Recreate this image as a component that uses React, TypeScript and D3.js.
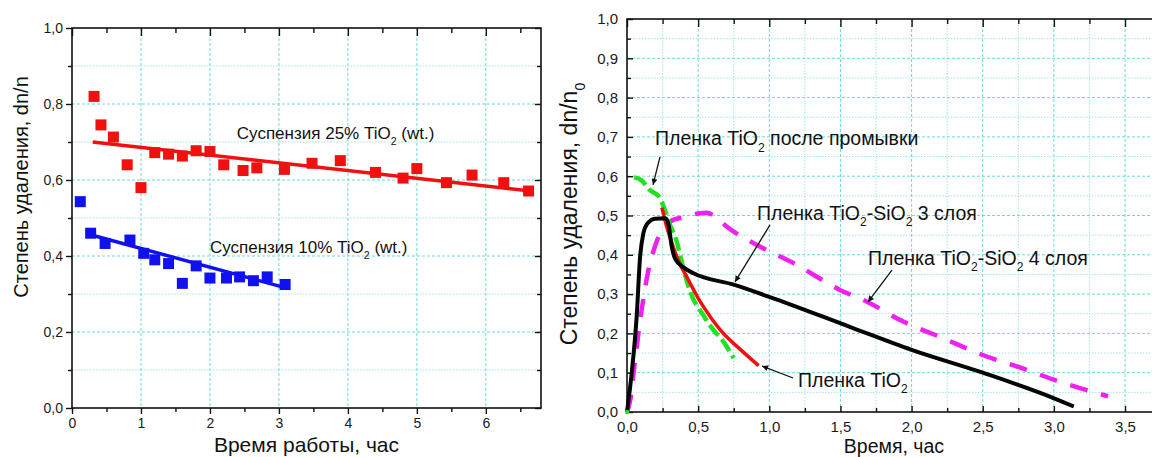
import React, { useEffect, useRef } from "react";
import * as d3 from "d3";

// ---- left panel: suspensions ----
const susp25 = [
  [0.32, 0.82], [0.42, 0.745], [0.6, 0.713], [0.8, 0.64], [1.0, 0.58], [1.2, 0.672],
  [1.4, 0.668], [1.6, 0.663], [1.8, 0.677], [2.0, 0.675], [2.2, 0.64], [2.48, 0.625],
  [2.68, 0.632], [3.08, 0.628], [3.48, 0.644], [3.89, 0.651], [4.4, 0.62], [4.8, 0.605],
  [5.0, 0.63], [5.43, 0.593], [5.8, 0.613], [6.26, 0.593], [6.62, 0.571]
];
const fit25 = [[0.3, 0.7], [6.65, 0.571]];
const susp10 = [
  [0.12, 0.543], [0.27, 0.46], [0.48, 0.433], [0.84, 0.442], [1.04, 0.407], [1.2, 0.39],
  [1.4, 0.38], [1.6, 0.328], [1.8, 0.374], [2.0, 0.342], [2.24, 0.342], [2.43, 0.345],
  [2.63, 0.335], [2.83, 0.345], [3.09, 0.325]
];
const fit10 = [[0.27, 0.456], [3.1, 0.316]];

const leftXMajor = [0, 1, 2, 3, 4, 5, 6];
const leftXMinor = [0.5, 1.5, 2.5, 3.5, 4.5, 5.5, 6.5];
const leftYMajor = [0, 0.2, 0.4, 0.6, 0.8, 1.0];
const leftYMinor = [0.1, 0.3, 0.5, 0.7, 0.9];

// ---- right panel: films ----
const filmWashed = [
  [0.05, 0.597], [0.1, 0.59], [0.16, 0.565], [0.23, 0.545], [0.27, 0.51], [0.3, 0.478],
  [0.34, 0.445], [0.4, 0.36], [0.44, 0.31], [0.535, 0.247], [0.6, 0.212], [0.67, 0.183],
  [0.75, 0.137]
];
const filmTiO2 = [
  [0.245, 0.52], [0.28, 0.47], [0.32, 0.425], [0.37, 0.378], [0.42, 0.344], [0.5, 0.29],
  [0.537, 0.268], [0.655, 0.209], [0.8, 0.158], [0.925, 0.118]
];
const film3 = [
  [0, 0], [0.033, 0.099], [0.068, 0.243], [0.092, 0.395], [0.115, 0.455], [0.14, 0.478],
  [0.197, 0.492], [0.27, 0.493], [0.29, 0.48], [0.315, 0.42], [0.338, 0.39], [0.397, 0.368],
  [0.467, 0.353], [0.75, 0.324], [1.0, 0.293], [1.57, 0.216], [2.0, 0.158], [2.5, 0.1],
  [2.98, 0.038], [3.14, 0.014]
];
const film4 = [
  [0, 0], [0.023, 0.03], [0.056, 0.13], [0.103, 0.26], [0.15, 0.36], [0.2, 0.425],
  [0.25, 0.466], [0.3, 0.484], [0.4, 0.496], [0.5, 0.505], [0.56, 0.507], [0.62, 0.497],
  [0.7, 0.472], [0.94, 0.42], [1.17, 0.379], [1.5, 0.31], [1.69, 0.28], [1.92, 0.234],
  [2.22, 0.188], [2.5, 0.145], [2.77, 0.112], [3.05, 0.076], [3.38, 0.04]
];
const greenOrigin = [[0, 0]];

const rightXMajor = [0, 0.5, 1, 1.5, 2, 2.5, 3, 3.5];
const rightXMinor = [0.25, 0.75, 1.25, 1.75, 2.25, 2.75, 3.25, 3.75];
const rightYMajor = [0, 0.1, 0.2, 0.3, 0.4, 0.5, 0.6, 0.7, 0.8, 0.9, 1.0];
const rightYMinor = [0.05, 0.15, 0.25, 0.35, 0.45, 0.55, 0.65, 0.75, 0.85, 0.95];

// annotations: label anchor in data units + text parts (odd parts are subscripts)
const leftNotes = [
  { at: [2.39, 0.708], parts: ["Суспензия 25% TiO", "2", " (wt.)"] },
  { at: [2.0, 0.408], parts: ["Суспензия 10% TiO", "2", " (wt.)"] }
];
const rightNotes = [
  { at: [0.197, 0.679], parts: ["Пленка TiO", "2", " после промывки"] },
  { at: [0.914, 0.489], parts: ["Пленка TiO", "2", "-SiO", "2", " 3 слоя"] },
  { at: [1.694, 0.374], parts: ["Пленка TiO", "2", "-SiO", "2", " 4 слоя"] },
  { at: [1.202, 0.064], parts: ["Пленка TiO", "2"] }
];
// arrows: tailX, tailY, headX, headY
const rightArrows = [
  [0.232, 0.649, 0.183, 0.578],
  [1.005, 0.476, 0.759, 0.331],
  [1.862, 0.361, 1.694, 0.28],
  [1.167, 0.0865, 0.949, 0.117]
];

const FONT = "'Liberation Sans', Arial, sans-serif";
const comma1 = (v: number) => d3.format(".1f")(v).replace(".", ",");

function subText(sel: any, parts: string[], size: number) {
  parts.forEach((p, i) => {
    const sub = i % 2 === 1;
    sel
      .append("tspan")
      .attr("dy", sub ? size * 0.33 : i === 0 ? 0 : -size * 0.33)
      .attr("font-size", sub ? size * 0.62 : size)
      .text(p);
  });
}

function drawPanel(svg: any, cfg: any) {
  const { x, y, xMajor, xMinor, yMajor, yMinor, outward, tickFont, xFmt, pad, vGridMinor } = cfg;
  const [x0, x1] = x.range();
  const [y0, y1] = y.range();
  const g = svg.append("g");

  // grid
  const grid = g.append("g").attr("fill", "none");
  const vg = vGridMinor ? xMajor.concat(xMinor) : xMajor;
  vg.filter((v: number) => v > x.domain()[0] && v < x.domain()[1]).forEach((v: number) => {
    const minor = xMinor.includes(v);
    grid.append("line").attr("x1", x(v)).attr("x2", x(v)).attr("y1", y1).attr("y2", y0)
      .attr("stroke", minor ? "#9fe4e4" : "#6ad9dc").attr("stroke-width", 1)
      .attr("stroke-dasharray", minor ? "1.5,1.5" : "3,2");
  });
  yMajor.concat(yMinor).filter((v: number) => v > y.domain()[0] && v < y.domain()[1]).forEach((v: number) => {
    const minor = yMinor.includes(v);
    grid.append("line").attr("x1", x0).attr("x2", x1).attr("y1", y(v)).attr("y2", y(v))
      .attr("stroke", minor ? "#9fe4e4" : "#6ad9dc").attr("stroke-width", 1)
      .attr("stroke-dasharray", minor ? "1.5,1.5" : "3,2");
  });

  const style = (a: any) => {
    a.select(".domain").remove();
    a.attr("font-family", FONT).attr("font-size", tickFont);
    a.selectAll("line").attr("stroke", "#111").attr("stroke-width", 1.4);
    a.selectAll("text").attr("fill", "#1a1a1a");
  };
  const dir = outward ? 1 : -1;
  // bottom
  g.append("g").attr("transform", `translate(0,${y0})`)
    .call(d3.axisBottom(x).tickValues(xMajor).tickSize(6 * dir).tickPadding(pad.b).tickFormat(xFmt))
    .call(style);
  g.append("g").attr("transform", `translate(0,${y0})`)
    .call(d3.axisBottom(x).tickValues(xMinor).tickSize(4 * dir).tickFormat(() => ""))
    .call(style);
  // left
  g.append("g").attr("transform", `translate(${x0},0)`)
    .call(d3.axisLeft(y).tickValues(yMajor).tickSize(6 * dir).tickPadding(pad.l).tickFormat(comma1))
    .call(style);
  g.append("g").attr("transform", `translate(${x0},0)`)
    .call(d3.axisLeft(y).tickValues(yMinor).tickSize(4 * dir).tickFormat(() => ""))
    .call(style);
  // top (inward)
  g.append("g").attr("transform", `translate(0,${y1})`)
    .call(d3.axisTop(x).tickValues(xMajor).tickSize(-8).tickFormat(() => ""))
    .call(style);
  g.append("g").attr("transform", `translate(0,${y1})`)
    .call(d3.axisTop(x).tickValues(xMinor).tickSize(-5).tickFormat(() => ""))
    .call(style);
  // right (inward)
  g.append("g").attr("transform", `translate(${x1},0)`)
    .call(d3.axisRight(y).tickValues(yMajor).tickSize(-6).tickFormat(() => ""))
    .call(style);
  g.append("g").attr("transform", `translate(${x1},0)`)
    .call(d3.axisRight(y).tickValues(yMinor).tickSize(-4).tickFormat(() => ""))
    .call(style);

  g.append("rect").attr("x", x0).attr("y", y1).attr("width", x1 - x0).attr("height", y0 - y1)
    .attr("fill", "none").attr("stroke", "#111").attr("stroke-width", 1.6);
  return g;
}

const App = () => {
  const ref = useRef<SVGSVGElement>(null);

  useEffect(() => {
    const svg = d3.select(ref.current);
    svg.selectAll("*").remove();

    const defs = svg.append("defs");
    defs.append("marker").attr("id", "arrow").attr("viewBox", "0 0 10 10")
      .attr("refX", 10).attr("refY", 5).attr("markerWidth", 9).attr("markerHeight", 6)
      .attr("markerUnits", "userSpaceOnUse").attr("orient", "auto")
      .append("path").attr("d", "M0,0L10,5L0,10z").attr("fill", "#111");

    // ---------- left ----------
    const xL = d3.scaleLinear().domain([0, 6.8]).range([72, 541]);
    const yL = d3.scaleLinear().domain([0, 1]).range([408, 28]);
    drawPanel(svg, {
      x: xL, y: yL, xMajor: leftXMajor, xMinor: leftXMinor, yMajor: leftYMajor, yMinor: leftYMinor,
      outward: true, tickFont: 14, xFmt: d3.format("d"), pad: { b: 4, l: 3 }, vGridMinor: false
    });

    const lineL = d3.line<number[]>().x(d => xL(d[0])).y(d => yL(d[1]));
    const sq = 11;
    [
      { pts: susp25, fit: fit25, color: "#f01010" },
      { pts: susp10, fit: fit10, color: "#1010f0" }
    ].forEach(s => {
      svg.append("path").attr("d", lineL(s.fit)).attr("fill", "none")
        .attr("stroke", s.color).attr("stroke-width", 3.5);
      svg.append("g").selectAll("rect").data(s.pts).join("rect")
        .attr("x", d => xL(d[0]) - sq / 2).attr("y", d => yL(d[1]) - sq / 2)
        .attr("width", sq).attr("height", sq).attr("fill", s.color);
    });

    leftNotes.forEach(n => {
      const t = svg.append("text").attr("x", xL(n.at[0])).attr("y", yL(n.at[1]))
        .attr("font-family", FONT).attr("fill", "#111");
      subText(t, n.parts, 17);
    });

    svg.append("text").attr("transform", `translate(28,187) rotate(-90)`)
      .attr("text-anchor", "middle").attr("font-family", FONT).attr("font-size", 20).attr("fill", "#111")
      .text("Степень удаления, dn/n");
    svg.append("text").attr("x", (72 + 541) / 2).attr("y", 452)
      .attr("text-anchor", "middle").attr("font-family", FONT).attr("font-size", 21).attr("fill", "#111")
      .text("Время работы, час");

    // ---------- right ----------
    const xR = d3.scaleLinear().domain([0, 3.75]).range([627, 1160.6]);
    const yR = d3.scaleLinear().domain([0, 1]).range([412, 19]);
    drawPanel(svg, {
      x: xR, y: yR, xMajor: rightXMajor, xMinor: rightXMinor, yMajor: rightYMajor, yMinor: rightYMinor,
      outward: false, tickFont: 15, xFmt: comma1, pad: { b: 9, l: 9 }, vGridMinor: true
    });

    const lineR = d3.line<number[]>().x(d => xR(d[0])).y(d => yR(d[1])).curve(d3.curveMonotoneX);
    svg.append("path").attr("d", lineR(film4)).attr("fill", "none").attr("stroke", "#f020f0")
      .attr("stroke-width", 4.5).attr("stroke-dasharray", "18,14");
    svg.append("path").attr("d", lineR(filmWashed)).attr("fill", "none").attr("stroke", "#22e022")
      .attr("stroke-width", 4.5).attr("stroke-dasharray", "14,5");
    svg.append("path").attr("d", lineR(filmTiO2)).attr("fill", "none").attr("stroke", "#f01010")
      .attr("stroke-width", 3.5);
    svg.append("path").attr("d", lineR(film3)).attr("fill", "none").attr("stroke", "#050505")
      .attr("stroke-width", 4).attr("stroke-linejoin", "round");
    svg.append("g").selectAll("circle").data(greenOrigin).join("circle")
      .attr("cx", d => xR(d[0])).attr("cy", d => yR(d[1])).attr("r", 2.2).attr("fill", "#22e022");

    rightArrows.forEach(a => {
      svg.append("line").attr("x1", xR(a[0])).attr("y1", yR(a[1])).attr("x2", xR(a[2])).attr("y2", yR(a[3]))
        .attr("stroke", "#111").attr("stroke-width", 1.3).attr("marker-end", "url(#arrow)");
    });
    rightNotes.forEach(n => {
      const t = svg.append("text").attr("x", xR(n.at[0])).attr("y", yR(n.at[1]))
        .attr("font-family", FONT).attr("fill", "#111");
      subText(t, n.parts, 19.5);
    });

    const yl = svg.append("text").attr("transform", `translate(577,214) rotate(-90)`)
      .attr("text-anchor", "middle").attr("font-family", FONT).attr("fill", "#111");
    subText(yl, ["Степень удаления, dn/n", "0"], 23);
    svg.append("text").attr("x", 894).attr("y", 452.5)
      .attr("text-anchor", "middle").attr("font-family", FONT).attr("font-size", 19.5).attr("fill", "#111")
      .text("Время, час");
  }, []);

  return (
    <div style={{ position: "absolute", left: 0, top: 0, width: 1152, height: 457, overflow: "hidden", background: "#fff" }}>
      <svg ref={ref} width={1152} height={457} style={{ display: "block" }} />
    </div>
  );
};

export default App;
